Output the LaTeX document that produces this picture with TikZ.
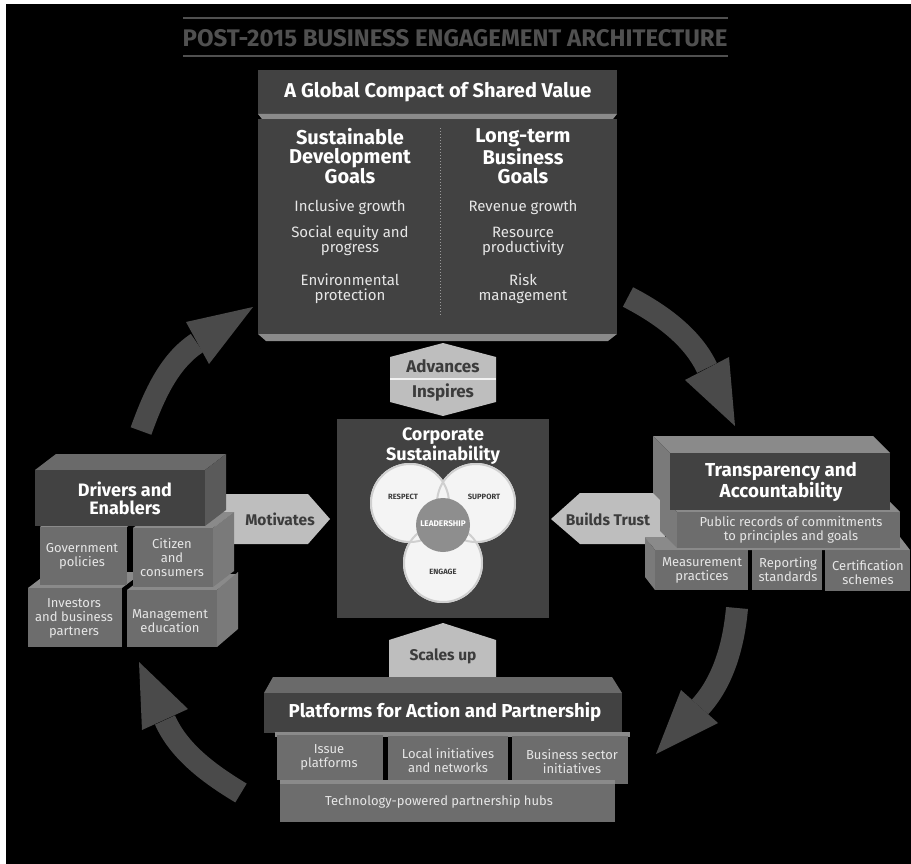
\documentclass[tikz,border=0pt]{standalone}
\usepackage{fontspec}
\setmainfont{Fira Sans}
\usetikzlibrary{arrows.meta}
\definecolor{titlegray}{HTML}{505050}
\definecolor{panelgray}{HTML}{424242}
\definecolor{edgegray}{HTML}{8A8A8A}
\definecolor{dotgray}{HTML}{9A9A9A}
\definecolor{tagfill}{HTML}{BEBEBE}
\definecolor{tagtext}{HTML}{3C3C3C}
\definecolor{cyclegray}{HTML}{4A4A4A}
\definecolor{itemwhite}{HTML}{E6E6E6}
\definecolor{blockfront}{HTML}{6D6D6D}
\definecolor{blocktop}{HTML}{8A8A8A}
\definecolor{blockside}{HTML}{7A7A7A}
\definecolor{headtop}{HTML}{6A6A6A}
\definecolor{headside}{HTML}{5A5A5A}
\definecolor{vennring}{HTML}{CFCFCF}
\definecolor{vennfill}{HTML}{F4F4F4}
\definecolor{leadfill}{HTML}{8E8E8E}

\begin{document}
\begin{tikzpicture}[x=1pt,y=-1pt,
  head/.style={text=white,font=\bfseries\fontsize{18}{18}\selectfont,align=center,inner sep=0pt},
  item/.style={text=itemwhite,font=\fontsize{15}{15}\selectfont,align=center,inner sep=0pt},
  small/.style={text=itemwhite,font=\fontsize{13}{14}\selectfont,align=center,inner sep=0pt},
  tag/.style={text=tagtext,font=\bfseries\fontsize{15.5}{15}\selectfont,inner sep=0pt},
  venn/.style={text=tagtext,font=\bfseries\fontsize{7.6}{8}\selectfont,inner sep=0pt},
  vennball/.style={circle,minimum size=80pt,inner sep=0pt,fill=vennfill},
  cycleshaft/.style={draw=cyclegray,line width=22pt}]
\useasboundingbox (0,0) rectangle (911,864);
\fill[white] (0,0) rectangle (911,864);
\fill[black] (6,4) rectangle (911,864);

% title
\draw[titlegray,line width=2pt] (183,18) -- (728,18);
\draw[titlegray,line width=2pt] (183,56) -- (728,56);
\node[text=titlegray,font=\bfseries\fontsize{24}{24}\selectfont] (title) at (455,38) {POST-2015 BUSINESS ENGAGEMENT ARCHITECTURE};

% cycle arrows
\coordinate (tlTail) at (141,431);
\coordinate (tlBase) at (197,343);
\coordinate (tlTip) at (253,307);
\draw[cycleshaft] (tlTail) .. controls (153,398) and (168,362) .. (tlBase);
\fill[cyclegray] (186,322) -- (tlTip) -- (209,364) -- cycle;
\coordinate (trTail) at (628,297);
\coordinate (trBase) at (707,368);
\coordinate (trTip) at (735,426);
\draw[cycleshaft] (trTail) .. controls (659,313) and (692,336) .. (trBase);
\fill[cyclegray] (685,380) -- (trTip) -- (729,357) -- cycle;
\coordinate (brTail) at (737,608);
\coordinate (brBase) at (700,707);
\coordinate (brTip) at (656,754);
\draw[cycleshaft] (brTail) .. controls (734,643) and (724,681) .. (brBase);
\fill[cyclegray] (681,690) -- (brTip) -- (718,723) -- cycle;
\coordinate (blTail) at (241,793);
\coordinate (blBase) at (165,720);
\coordinate (blTip) at (139,662);
\draw[cycleshaft] (blTail) .. controls (211,775) and (179,752) .. (blBase);
\fill[cyclegray] (142,730) -- (blTip) -- (188,709) -- cycle;

% global compact
\fill[panelgray] (258,70) rectangle (617,114);
\node[head,font=\bfseries\fontsize{20}{20}\selectfont] (compact) at (438,92) {A Global Compact of Shared Value};
\fill[edgegray] (258,114) -- (617,114) -- (613,119) -- (262,119) -- cycle;
\fill[panelgray] (258,119) rectangle (617,334);
\fill[edgegray] (258,334) -- (617,334) -- (608,341) -- (266,341) -- cycle;
\draw[dotgray,dotted,line width=1pt] (440,128) -- (440,316);
\node[head,font=\bfseries\fontsize{20}{19}\selectfont] (sdg) at (350,156) {Sustainable\\Development\\Goals};
\node[head,font=\bfseries\fontsize{20}{19}\selectfont] (ltbg) at (523,156) {Long-term\\Business\\Goals};
\node[item] (inclusive) at (350,207) {Inclusive growth};
\node[item] (equity) at (350,241) {Social equity and\\progress};
\node[item] (environment) at (350,289) {Environmental\\protection};
\node[item] (revenue) at (523,207) {Revenue growth};
\node[item] (resource) at (523,241) {Resource\\productivity};
\node[item] (risk) at (523,289) {Risk\\management};

% advances / inspires
\fill[tagfill] (443,343) -- (496,357) -- (496,402) -- (443,416) -- (390,402) -- (390,357) -- cycle;
\draw[white!80!tagfill,line width=1.5pt] (390,379) -- (496,379);
\node[tag,font=\bfseries\fontsize{17}{17}\selectfont] (advances) at (443,366) {Advances};
\node[tag,font=\bfseries\fontsize{17}{17}\selectfont] (inspires) at (443,392) {Inspires};

% corporate sustainability
\fill[panelgray] (337,419) rectangle (549,618);
\node[head] (corporate) at (443,446) {Corporate\\Sustainability};
\node[vennball] (respect) at (410,503) {};
\node[vennball] (support) at (476,503) {};
\node[vennball] (engage) at (443,563) {};
\draw[vennring,line width=2pt] (respect.center) circle[radius=39pt];
\draw[vennring,line width=2pt] (support.center) circle[radius=39pt];
\draw[vennring,line width=2pt] (engage.center) circle[radius=39pt];
\node[circle,minimum size=54pt,inner sep=0pt,fill=leadfill] (leadership) at (443,525) {};
\node[venn] (respectlbl) at (403,497) {RESPECT};
\node[venn] (supportlbl) at (484,497) {SUPPORT};
\node[venn] (engagelbl) at (443,572) {ENGAGE};
\node[venn,text=white,font=\bfseries\fontsize{8.2}{8}\selectfont] (leadlbl) at (443,524) {LEADERSHIP};

% drivers and enablers
\fill[tagfill] (215,494) -- (308,494) -- (330,519) -- (308,544) -- (215,544) -- cycle;
\node[tag] (motivates) at (280,519) {Motivates};
\pgfmathsetmacro{\dx}{21}
\pgfmathsetmacro{\dy}{16}
\fill[blocktop] (28,588) -- ++(\dx,-\dy) -- ++(94,0) -- ++(-\dx,\dy) -- cycle;
\fill[blockfront] (28,588) rectangle (122,647);
\fill[blocktop] (127,590) -- ++(\dx,-\dy) -- ++(90,0) -- ++(-\dx,\dy) -- cycle;
\fill[blockside] (217,590) -- ++(\dx,-\dy-2) -- ++(0,57) -- ++(-\dx,\dy+2) -- cycle;
\fill[blockfront] (127,590) rectangle (217,647);
\fill[blocktop] (40,527) -- ++(\dx,-\dy) -- ++(87,0) -- ++(-\dx,\dy) -- cycle;
\fill[blockfront] (40,527) rectangle (127,585);
\fill[blocktop] (133,528) -- ++(\dx,-\dy) -- ++(80,0) -- ++(-\dx,\dy) -- cycle;
\fill[blockside] (213,528) -- ++(\dx,-\dy) -- ++(0,59) -- ++(-\dx,\dy) -- cycle;
\fill[blockfront] (133,528) rectangle (213,587);
\fill[headtop] (35,470) -- ++(\dx,-\dy) -- ++(170,0) -- ++(-\dx,\dy) -- cycle;
\fill[headside] (205,470) -- ++(\dx,-\dy) -- ++(0,56) -- ++(-\dx,\dy) -- cycle;
\fill[panelgray] (35,470) rectangle (205,526);
\node[head] (drivers) at (125,498) {Drivers and\\Enablers};
\node[small] (government) at (82,556) {Government\\policies};
\node[small] (citizen) at (172,558) {Citizen\\and\\consumers};
\node[small] (investors) at (74,618) {Investors\\and business\\partners};
\node[small] (management) at (170,621) {Management\\education};

% transparency and accountability
\fill[tagfill] (551,519) -- (580,493) -- (665,493) -- (665,544) -- (580,544) -- cycle;
\node[tag] (trust) at (608,519) {Builds Trust};
\pgfmathsetmacro{\ex}{10}
\pgfmathsetmacro{\ey}{13}
\fill[blocktop] (655,550) -- ++(-\ex,-\ey) -- ++(255,0) -- ++(\ex,\ey) -- cycle;
\fill[blockside] (655,550) -- ++(-\ex,-\ey) -- ++(0,40) -- ++(\ex,\ey) -- cycle;
\fill[blockfront] (655,550) rectangle (748,590);
\fill[blockfront] (752,550) rectangle (822,590);
\fill[blockfront] (825,550) rectangle (910,591);
\pgfmathsetmacro{\ex}{17}
\pgfmathsetmacro{\ey}{17}
\fill[blocktop] (677,512) -- ++(-\ex,-\ey) -- ++(223,0) -- ++(\ex,\ey) -- cycle;
\fill[blockside] (677,512) -- ++(-\ex,-\ey) -- ++(0,36) -- ++(\ex,\ey) -- cycle;
\fill[blockfront] (677,512) rectangle (900,548);
\fill[blocktop] (670,453) -- ++(-\ex,-\ey) -- ++(220,0) -- ++(\ex,\ey) -- cycle;
\fill[blockside] (670,453) -- ++(-\ex,-\ey) -- ++(0,57) -- ++(\ex,\ey) -- cycle;
\fill[panelgray] (670,453) rectangle (890,510);
\node[head,font=\bfseries\fontsize{18.8}{18}\selectfont] (transparency) at (781,482) {Transparency and\\Accountability};
\node[small] (records) at (791,530) {Public records of commitments\\to principles and goals};
\node[small] (measurement) at (702,570) {Measurement\\practices};
\node[small] (reporting) at (788,570) {Reporting\\standards};
\node[small] (certification) at (868,573) {Certification\\schemes};

% platforms for action and partnership
\fill[tagfill] (389,640) -- (443,623) -- (496,640) -- (496,680) -- (389,680) -- cycle;
\node[tag] (scales) at (443,656) {Scales up};
\fill[headtop] (264,693) -- (273,677) -- (612,677) -- (622,693) -- cycle;
\fill[panelgray] (264,693) rectangle (622,733);
\node[head,font=\bfseries\fontsize{18.7}{18}\selectfont] (platforms) at (445,712) {Platforms for Action and Partnership};
\fill[blocktop] (275,732) rectangle (630,737);
\fill[blockfront] (277,735) rectangle (383,780);
\fill[blockfront] (388,736) rectangle (508,782);
\fill[blockfront] (512,736) rectangle (628,784);
\fill[blocktop] (280,780) rectangle (615,784);
\fill[blockfront] (280,784) rectangle (615,822);
\node[small] (issue) at (329,757) {Issue\\platforms};
\node[small] (local) at (448,761) {Local initiatives\\and networks};
\node[small] (business) at (572,762) {Business sector\\initiatives};
\node[small] (hubs) at (439,802) {Technology-powered partnership hubs};
\end{tikzpicture}
\end{document}
